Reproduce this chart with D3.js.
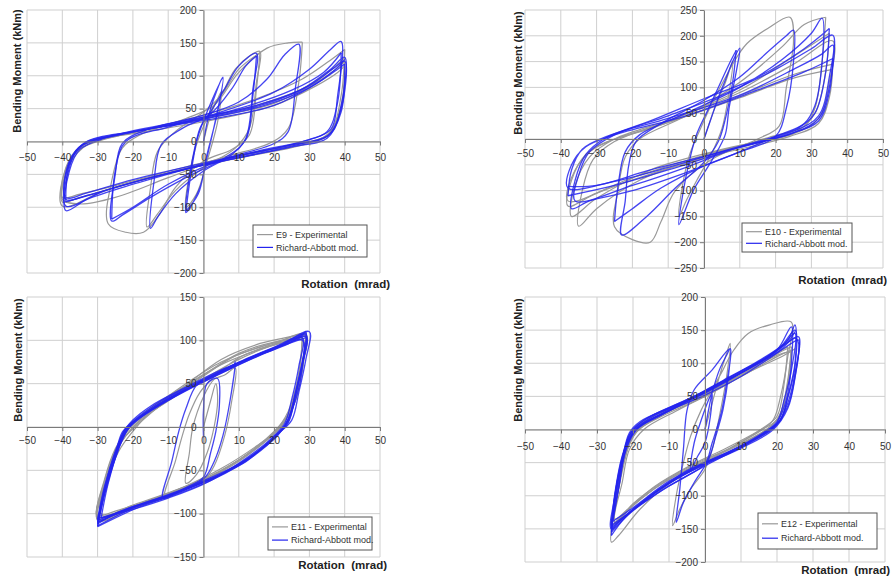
<!DOCTYPE html>
<html>
<head>
<meta charset="utf-8">
<script src="https://cdn.jsdelivr.net/npm/d3@7"></script>
<style>
  body { margin: 0; background: #fff; }
  svg { display: block; font-family: "Liberation Sans", Arial, sans-serif; }
</style>
</head>
<body>
<script>
// ---- tick values ----
const rotationTicks = [-50, -40, -30, -20, -10, 0, 10, 20, 30, 40, 50];
const e9Ticks  = [-200, -150, -100, -50, 0, 50, 100, 150, 200];
const e10Ticks = [-250, -200, -150, -100, -50, 0, 50, 100, 150, 200, 250];
const e11Ticks = [-150, -100, -50, 0, 50, 100, 150];
const e12Ticks = [-200, -150, -100, -50, 0, 50, 100, 150, 200];

// ---- loops: [rotation mrad, moment kNm] ----
const e9Exp = [
  [[0,0],[2,40],[4,65],[5,75],[4,30],[1,-30],[-2,-80],[-5,-100],[-4,-50],[-2,-5],[1,35],[4,65],[6,80]],
  [[6,80],[9,110],[13,130],[16,137],[15,90],[13,20],[9,-10],[0,-40],[-8,-75],[-13,-110],[-16,-130],[-15,-70],[-13,-15],[-8,15],[0,45],[5,70],[10,110],[16,135]],
  [[16,135],[15,80],[13,10],[8,-12],[0,-30],[-8,-70],[-13,-115],[-17,-138],[-22,-138],[-27,-125],[-26,-60],[-23,-10],[-18,10],[-5,35],[3,55],[10,105],[18,142],[24,150],[28,151]],
  [[28,151],[27,90],[24,20],[19,-2],[5,-25],[-10,-55],[-25,-85],[-35,-95],[-40,-88],[-39,-50],[-36,-15],[-30,0],[-15,20],[0,40],[15,65],[28,95],[35,120],[40,140]],
  [[40,140],[39,70],[36,15],[30,-2],[10,-25],[-10,-48],[-28,-75],[-40,-98],[-39,-40],[-35,-8],[-25,8],[-5,30],[15,55],[28,80],[36,108],[40,128]],
  [[40,128],[39,55],[35,10],[25,-5],[0,-32],[-20,-60],[-35,-80],[-40,-85],[-38,-30],[-32,0],[-20,12],[0,30],[20,55],[32,85],[38,105],[40,115]],
  [[40,115],[39,50],[35,8],[25,-6],[0,-34],[-20,-62],[-35,-85],[-40,-92],[-38,-35],[-32,-2],[-20,14],[0,34],[20,58],[32,90],[38,112],[40,122]]
];
const e9Model = [
  [[0,0],[2,50],[5.5,98],[4,45],[1,-20],[-1,-70],[-5,-108],[-4,-55],[-2,0],[1,45],[5.5,96],[3.5,35],[0.5,-35],[-1.5,-80],[-5,-106]],
  [[-5,-106],[-3,-30],[-1,20],[2,45],[6,80],[10,115],[15,134],[14,80],[12,5],[8,-20],[0,-45],[-8,-80],[-13,-115],[-15,-132],[-14,-60],[-12,-5],[-6,20],[2,42],[8,80],[12,115],[15,130]],
  [[15,130],[14,70],[12,3],[6,-25],[-5,-55],[-15,-85],[-23,-112],[-26,-121],[-25,-50],[-23,-3],[-16,18],[0,40],[10,60],[18,95],[23,132],[27,148],[26,80],[24,15],[20,-3],[5,-28],[-10,-65],[-20,-100],[-26,-118]],
  [[-26,-118],[-25,-45],[-22,0],[-10,22],[5,45],[20,75],[30,110],[36,140],[39,152],[38,70],[36,18],[30,3],[15,-15],[0,-35],[-20,-65],[-33,-88],[-39,-105],[-38,-45],[-35,-12],[-28,5],[-10,25],[10,50],[25,78],[34,105],[39,135]],
  [[39,135],[38,60],[35,15],[28,0],[10,-22],[-10,-48],[-28,-75],[-39,-98],[-38,-40],[-35,-8],[-25,10],[-5,32],[15,55],[28,80],[36,110],[40,128],[39,55],[36,12],[28,-3],[5,-30],[-15,-55],[-30,-78],[-39,-92]],
  [[-39,-92],[-38,-35],[-34,-5],[-22,12],[0,35],[18,58],[30,85],[37,112],[40,122],[39,50],[35,8],[25,-5],[0,-33],[-20,-58],[-33,-78],[-39,-85],[-38,-30],[-33,0],[-20,15],[0,32],[20,55],[32,88],[38,110],[40,118]],
  [[40,118],[39,45],[35,5],[25,-8],[0,-36],[-20,-62],[-33,-82],[-39,-88],[-38,-32],[-34,-3],[-22,13],[0,34],[18,56],[30,82],[37,108],[40,125]]
];

const e10Exp = [
  [[0,0],[3,60],[6,110],[8,150],[7,90],[5,20],[2,-30],[-2,-80],[-5,-120],[-7,-150],[-6,-90],[-4,-30],[-1,20],[3,80],[8,145]],
  [[8,145],[12,185],[18,215],[24,236],[25,190],[23,100],[21,25],[15,0],[2,-40],[-8,-100],[-12,-160],[-15,-200],[-20,-195],[-25,-170],[-24,-100],[-22,-35],[-18,0],[-5,45],[10,110],[22,180],[28,222],[34,236]],
  [[34,236],[33,150],[31,60],[28,25],[18,3],[0,-35],[-18,-80],[-30,-135],[-35,-169],[-34,-100],[-31,-40],[-25,-5],[-10,35],[10,95],[25,160],[35,205]],
  [[35,205],[34,130],[31,50],[26,15],[5,-20],[-15,-60],[-30,-115],[-37,-150],[-36,-90],[-32,-35],[-25,0],[-8,40],[10,90],[25,145],[36,190],[35,110],[32,40],[25,10],[5,-22],[-20,-75],[-38,-120],[-36,-60],[-30,-15],[-15,20],[5,70],[25,125],[36,145]],
  [[36,145],[35,80],[32,30],[24,5],[5,-28],[-15,-68],[-30,-105],[-38,-130],[-37,-80],[-33,-30],[-26,-3],[-10,32],[10,80],[25,118],[36,135]]
];
const e10Model = [
  [[0,0],[2,40],[4,80],[6,115],[8,150],[10,176],[9,130],[7,60],[6,10],[4,-20],[1,-55],[-3,-100],[-7,-166],[-6,-110],[-4,-40],[-2,10],[1,55],[4,100],[7,145],[9,172]],
  [[9,172],[8,110],[6,40],[4,-5],[0,-45],[-8,-95],[-16,-150],[-23,-186],[-22,-120],[-21,-50],[-19,-5],[-12,30],[0,75],[10,120],[18,170],[23,200],[25,211],[25,150],[23,60],[20,5],[10,-25],[0,-52],[-12,-95],[-20,-135],[-25,-160]],
  [[-25,-160],[-24,-90],[-22,-25],[-18,8],[-5,50],[10,100],[22,155],[30,205],[33,234],[33,150],[31,65],[28,30],[20,5],[10,-25],[-5,-65],[-20,-100],[-32,-120],[-37,-135],[-36,-80],[-33,-30],[-28,0],[-15,35],[0,78],[15,120],[28,175],[35,214]],
  [[35,214],[34,130],[31,50],[26,20],[10,-15],[-5,-55],[-20,-90],[-36,-120],[-35,-70],[-32,-25],[-25,8],[-10,45],[5,85],[20,135],[30,175],[36,201],[35,120],[32,45],[25,15],[8,-20],[-10,-60],[-25,-90],[-38,-110]],
  [[-38,-110],[-37,-60],[-34,-20],[-26,8],[-10,40],[10,85],[25,135],[33,165],[36,182],[35,100],[32,40],[25,12],[8,-18],[-10,-55],[-25,-82],[-38,-95],[-37,-50],[-33,-15],[-25,8],[-5,45],[15,95],[28,130],[36,156]],
  [[36,156],[35,90],[32,35],[24,10],[5,-25],[-15,-60],[-30,-90],[-38,-92]]
];

const e11Exp = [
  [[0,0],[2,30],[3.5,50],[4,30],[3,0],[1,-30],[-2,-55],[-5,-65],[-4,-30],[-3,0],[0,35],[3,55],[6,60],[9,68],[8,30],[6,-10],[3,-45],[0,-62],[-6,-72],[-11,-82],[-8,-40],[-6,-10],[-4,15],[-1,40],[3,58]],
  [[3,58],[10,80],[20,96],[29,107],[28,70],[25,25],[22,0],[18,-15],[10,-38],[0,-60],[-10,-76],[-20,-90],[-30,-104],[-28,-65],[-25,-30],[-22,-10],[-18,8],[-10,30],[0,55],[10,78],[20,95],[29,105]],
  [[29,105],[28,65],[25,20],[21,-3],[15,-22],[5,-48],[-5,-68],[-15,-84],[-25,-97],[-30,-102],[-28,-60],[-25,-25],[-21,0],[-15,22],[-5,48],[5,72],[15,88],[28,104]],
  [[28,104],[27,60],[24,15],[20,-5],[10,-38],[0,-62],[-10,-80],[-20,-94],[-30,-108],[-28,-70],[-24,-28],[-20,-5],[-14,22],[-6,45],[5,78],[15,95],[22,102],[29,108]],
  [[29,108],[28,70],[26,30],[22,2],[15,-25],[5,-52],[-5,-70],[-15,-86],[-29,-100],[-27,-55],[-24,-20],[-18,5],[-10,32],[0,60],[10,85],[20,98],[28,102]],
  [[28,102],[27,62],[24,18],[20,-6],[12,-33],[2,-57],[-8,-74],[-18,-89],[-30,-106],[-28,-62],[-25,-27],[-21,-2],[-15,20],[-5,50],[5,75],[15,91],[29,106]],
  [[29,106],[28,68],[25,22],[21,-4],[13,-30],[3,-55],[-7,-72],[-17,-88],[-30,-103],[-27,-58],[-24,-22],[-19,3],[-11,28],[-1,56],[9,82],[19,96],[29,109]]
];
const e11Model = [
  [[0,-12],[0,20],[1,50],[4,56],[4.5,25],[3.5,-5],[2,-30],[0,-58],[-4,-68],[-8,-76],[-11.5,-82],[-9,-40],[-7,-5],[-5,21],[-2,48],[3,60],[8.5,70],[9,75],[7.5,30],[5.5,-10],[3,-40],[0,-60],[-10,-80],[-20,-92],[-30,-110]],
  [[-30,-110],[-28,-75],[-25,-35],[-23,-8],[-20,8],[-15,24],[-5,46],[5,66],[15,82],[24,96],[29,108],[28,75],[26,38],[24,8],[21,-10],[15,-30],[5,-55],[-5,-72],[-15,-86],[-24,-98],[-30,-112]],
  [[-30,-112],[-28,-72],[-25,-32],[-22,-4],[-19,10],[-12,30],[0,55],[10,75],[20,92],[29,106],[28,72],[26,35],[24,5],[20,-12],[12,-38],[0,-62],[-10,-78],[-20,-92],[-30,-108]],
  [[-30,-108],[-28,-70],[-25,-28],[-22,-2],[-18,12],[-10,33],[0,52],[10,72],[20,90],[28,103],[27,70],[25,32],[23,4],[19,-14],[10,-42],[0,-66],[-10,-82],[-20,-95],[-29,-105]],
  [[-29,-105],[-27,-65],[-24,-25],[-21,0],[-17,14],[-8,36],[2,58],[12,78],[22,95],[30,110],[29,78],[27,40],[25,8],[21,-8],[14,-32],[3,-58],[-8,-76],[-18,-90],[-30,-114]],
  [[-30,-114],[-28,-78],[-25,-36],[-22,-6],[-19,8],[-12,26],[-2,48],[8,68],[18,86],[28,100],[28,68],[26,30],[23,2],[19,-16],[10,-44],[0,-64],[-12,-82],[-22,-96],[-30,-106]],
  [[-30,-106],[-28,-68],[-25,-30],[-22,-3],[-18,11],[-10,32],[0,54],[10,74],[20,91],[29,104],[28,73],[26,36],[24,6],[20,-11],[12,-40],[0,-63],[-10,-80],[-20,-93],[-30,-110]],
  [[-30,-110],[-28,-74],[-25,-33],[-23,-6],[-19,9],[-12,28],[-2,50],[8,70],[18,88],[27,102],[29,110],[28,76],[26,39],[24,9],[21,-9],[14,-34],[3,-60],[-8,-78],[-18,-92],[-30,-115]],
  [[-30,-115],[-28,-76],[-25,-34],[-22,-5],[-18,10],[-10,31],[0,53],[10,73],[20,90],[29,103]]
];

const e12Exp = [
  [[0,0],[2,40],[4,80],[6,115],[7,130],[6,80],[4,20],[2,-30],[0,-60],[-4,-90],[-7,-120],[-9,-145],[-8,-100],[-6,-50],[-4,-10],[-1,30],[2,60],[5,90]],
  [[5,90],[8,120],[12,145],[18,158],[24,162],[23,110],[21,50],[19,15],[16,0],[8,-25],[0,-50],[-10,-82],[-18,-120],[-24,-160],[-26,-170],[-25,-110],[-23,-50],[-20,-10],[-15,15],[-5,40],[5,68],[15,98],[22,120],[24,125]],
  [[24,125],[23,75],[21,25],[18,3],[10,-22],[0,-48],[-10,-75],[-18,-105],[-24,-135],[-26,-145],[-24,-90],[-22,-40],[-20,-5],[-15,18],[-5,42],[5,70],[15,100],[23,125]],
  [[23,125],[22,70],[20,20],[16,2],[8,-25],[-2,-52],[-12,-82],[-20,-115],[-25,-140],[-24,-85],[-22,-35],[-19,-3],[-12,20],[0,50],[10,80],[20,110],[24,120]],
  [[24,120],[23,70],[21,22],[17,0],[8,-26],[-2,-50],[-12,-80],[-20,-112],[-25,-142],[-24,-88],[-22,-38],[-19,-4],[-12,22],[0,52],[10,82],[20,112],[24,118]],
  [[24,118],[23,65],[20,15],[15,-2],[6,-28],[-4,-54],[-14,-86],[-21,-118],[-25,-135],[-23,-80],[-21,-30],[-17,0],[-8,28],[2,56],[12,86],[22,112],[25,122]]
];
const e12Model = [
  [[0,0],[1,30],[2,55],[1.5,20],[0,-20],[-2,-40],[-4,-60],[-3,-20],[-1,15],[1,45],[2,56]],
  [[2,56],[4,90],[6,112],[7,122],[6.5,80],[5,30],[3,-10],[1,-45],[-3,-80],[-6,-110],[-8,-140],[-7,-90],[-6,-30],[-5,29],[-3,60],[2,90],[7,122],[6,70],[4.5,25],[2,-20],[0,-52],[-5,-70],[-10,-85]],
  [[-10,-85],[-20,-122],[-26,-150],[-25,-100],[-23,-45],[-21,-5],[-18,12],[-10,32],[0,55],[10,85],[20,120],[24,155],[24,100],[23,55],[21,20],[19,3],[10,-27],[0,-52],[-10,-82],[-20,-122],[-26,-155]],
  [[-26,-155],[-25,-105],[-23,-50],[-21,-8],[-17,14],[-8,38],[2,62],[12,92],[21,125],[25,150],[25,95],[23,48],[21,15],[18,0],[8,-32],[-2,-56],[-12,-88],[-21,-125],[-26,-145]],
  [[-26,-145],[-25,-95],[-23,-40],[-20,0],[-15,20],[-5,45],[5,72],[15,100],[22,128],[26,140],[25,85],[23,40],[20,8],[15,-10],[5,-38],[-5,-62],[-15,-100],[-22,-130],[-26,-150]],
  [[-26,-150],[-24,-90],[-22,-30],[-19,2],[-12,24],[0,52],[10,80],[18,108],[24,130],[26,135],[25,80],[23,35],[19,2],[10,-25],[0,-50],[-10,-78],[-20,-118],[-26,-140]],
  [[-26,-140],[-24,-80],[-22,-25],[-18,5],[-10,28],[0,58],[10,88],[20,118],[25,145],[24,90],[22,45],[20,12],[12,-20],[0,-55],[-12,-92],[-22,-132],[-26,-160]],
  [[-26,-160],[-25,-100],[-23,-42],[-20,-2],[-15,18],[-5,44],[5,74],[15,104],[23,135],[25,158],[25,100],[23,50],[21,14],[17,-2],[7,-33],[-3,-58],[-13,-92],[-22,-130],[-26,-148]],
  [[-26,-148],[-24,-88],[-22,-32],[-19,0],[-12,22],[0,56],[10,86],[20,116],[25,138],[26,130],[25,78],[23,32],[19,0],[10,-28],[0,-53],[-10,-80],[-20,-120],[-26,-152]],
  [[-26,-152],[-25,-98],[-23,-46],[-20,-4],[-14,18],[-4,46],[6,76],[16,106],[23,132],[25,148]]
];

const expNames = ["E9 - Experimental", "E10 - Experimental", "E11 - Experimental", "E12 - Experimental"];
const modelName = "Richard-Abbott mod.";

// ---- layout ----
const panels = [
  { left: 27,  right: 380, top: 10,  bottom: 273, ticks: e9Ticks,  exp: e9Exp,  model: e9Model,  name: expNames[0],
    pad: 8, yTitle: [21, 71],  xTitleEnd: [390, 288], legend: [253, 225, 114, 32] },
  { left: 525, right: 883, top: 10,  bottom: 268, ticks: e10Ticks, exp: e10Exp, model: e10Model, name: expNames[1],
    pad: 7, yTitle: [522, 73], xTitleEnd: [887, 284], legend: [742, 223, 110, 29] },
  { left: 27,  right: 380, top: 297, bottom: 557, ticks: e11Ticks, exp: e11Exp, model: e11Model, name: expNames[2],
    pad: 6, yTitle: [22, 360], xTitleEnd: [387, 569], legend: [268, 517, 104, 33] },
  { left: 525, right: 885, top: 297, bottom: 562, ticks: e12Ticks, exp: e12Exp, model: e12Model, name: expNames[3],
    pad: 9, yTitle: [522, 360], xTitleEnd: [890, 574], legend: [758, 513, 119, 36] }
];

const svg = d3.select("body").append("svg")
  .attr("width", 893)
  .attr("height", 580);

panels.forEach(p => {
  const x = d3.scaleLinear().domain([-50, 50]).range([p.left, p.right]);
  const yMax = d3.max(p.ticks);
  const y = d3.scaleLinear().domain([-yMax, yMax]).range([p.bottom, p.top]);
  const g = svg.append("g");

  // grid
  g.append("g").selectAll("line").data(rotationTicks).join("line")
    .attr("x1", d => x(d)).attr("x2", d => x(d))
    .attr("y1", p.top).attr("y2", p.bottom)
    .attr("stroke", "#cfcfcf").attr("stroke-width", 1);
  g.append("g").selectAll("line").data(p.ticks).join("line")
    .attr("x1", p.left).attr("x2", p.right)
    .attr("y1", d => y(d)).attr("y2", d => y(d))
    .attr("stroke", "#cfcfcf").attr("stroke-width", 1);

  // curves
  const line = d3.line()
    .x(d => x(d[0])).y(d => y(d[1]))
    .curve(d3.curveCatmullRom.alpha(0.5));

  g.append("g").selectAll("path").data(p.exp).join("path")
    .attr("d", line)
    .attr("fill", "none").attr("stroke", "#999").attr("stroke-width", 1.2);
  g.append("g").selectAll("path").data(p.model).join("path")
    .attr("d", line)
    .attr("fill", "none").attr("stroke", "#2424ee").attr("stroke-width", 1.3)
    .attr("stroke-opacity", 0.85);

  // axes through the origin
  const xAxis = g.append("g")
    .attr("transform", `translate(0,${y(0)})`)
    .call(d3.axisBottom(x).tickValues(rotationTicks).tickFormat(d3.format("d"))
      .tickSize(4).tickSizeOuter(0).tickPadding(p.pad));
  const yAxis = g.append("g")
    .attr("transform", `translate(${x(0)},0)`)
    .call(d3.axisLeft(y).tickValues(p.ticks).tickFormat(d3.format("d"))
      .tickSize(4).tickSizeOuter(0).tickPadding(3));
  [xAxis, yAxis].forEach(a => {
    a.select(".domain").attr("stroke", "#7a7a7a");
    a.selectAll(".tick line").attr("stroke", "#7a7a7a");
    a.selectAll(".tick text").attr("fill", "#333").attr("font-size", 10)
      .attr("font-family", "'Liberation Sans', Arial, sans-serif");
  });

  // titles
  g.append("text")
    .attr("transform", `translate(${p.yTitle[0]},${p.yTitle[1]}) rotate(-90)`)
    .attr("text-anchor", "middle")
    .attr("font-size", 11).attr("font-weight", "bold").attr("fill", "#222")
    .text("Bending Moment (kNm)");
  g.append("text")
    .attr("x", p.xTitleEnd[0]).attr("y", p.xTitleEnd[1])
    .attr("text-anchor", "end")
    .attr("font-size", 11.5).attr("font-weight", "bold").attr("fill", "#222")
    .style("white-space", "pre")
    .text("Rotation  (mrad)");

  // legend
  const [lx, ly, lw, lh] = p.legend;
  const lg = g.append("g");
  lg.append("rect")
    .attr("x", lx).attr("y", ly).attr("width", lw).attr("height", lh)
    .attr("fill", "#fff").attr("stroke", "#555").attr("stroke-width", 1);
  const entries = [
    { label: p.name, color: "#999" },
    { label: modelName, color: "#2424ee" }
  ];
  entries.forEach((e, i) => {
    const cy = ly + lh * (i === 0 ? 0.3 : 0.7);
    lg.append("line")
      .attr("x1", lx + 4).attr("x2", lx + 20)
      .attr("y1", cy).attr("y2", cy)
      .attr("stroke", e.color).attr("stroke-width", 1.2);
    lg.append("text")
      .attr("x", lx + 23).attr("y", cy + 3.2)
      .attr("font-size", 9).attr("fill", "#333")
      .text(e.label);
  });
});
</script>
</body>
</html>
